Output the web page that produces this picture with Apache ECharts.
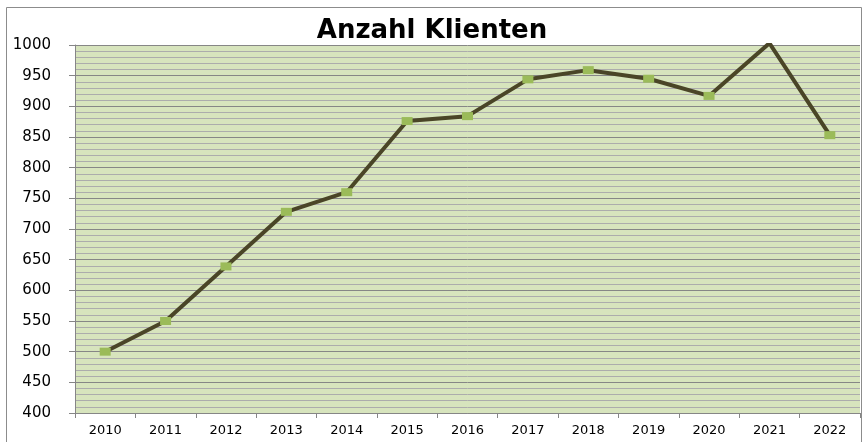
<!DOCTYPE html>
<html>
<head>
<meta charset="utf-8">
<script src="https://cdn.jsdelivr.net/npm/echarts@6/dist/echarts.min.js"></script>
<style>
html,body{margin:0;padding:0;background:#fff;}
#c{width:864px;height:442px;}
</style>
</head>
<body>
<div id="c"></div>
<script>
const years = ['2010','2011','2012','2013','2014','2015','2016','2017','2018','2019','2020','2021','2022'];
const klienten = [500, 550, 639, 728, 760, 876, 884, 944, 959, 945, 917, 1003, 853];
const chartTitle = 'Anzahl Klienten';
const yMin = 400, yMax = 1000;

const seriesData = klienten.map(v => v > yMax ? {value: v, symbol: 'none'} : v);

const chart = echarts.init(document.getElementById('c'), null, {renderer: 'canvas'});
chart.setOption({
  animation: false,
  backgroundColor: '#ffffff',
  graphic: [{
    type: 'rect',
    shape: {x: 6.5, y: 7.5, width: 855, height: 445},
    style: {fill: 'none', stroke: '#8c8c8c', lineWidth: 1},
    z: -1
  }],
  title: {
    text: chartTitle,
    left: 'center',
    top: 13,
    textStyle: {fontFamily: 'DejaVu Sans', fontWeight: 'bold', fontSize: 26, color: '#000'}
  },
  grid: {left: 75, right: 4, top: 45, bottom: 29, show: true, backgroundColor: '#d7e4bd', borderWidth: 0},
  xAxis: {
    type: 'category',
    data: years,
    boundaryGap: true,
    axisLine: {lineStyle: {color: '#868686', width: 1}},
    axisTick: {show: true, length: 5, lineStyle: {color: '#868686'}},
    axisLabel: {fontFamily: 'DejaVu Sans', fontSize: 13, color: '#000', margin: 11}
  },
  yAxis: {
    type: 'value',
    min: yMin, max: yMax, interval: 50,
    axisLine: {show: true, lineStyle: {color: '#868686', width: 1}},
    axisTick: {show: true, length: 6, lineStyle: {color: '#868686'}},
    axisLabel: {fontFamily: 'DejaVu Sans', fontSize: 15, color: '#000', margin: 24, formatter: v => String(v)},
    splitLine: {show: true, lineStyle: {color: '#868686', width: 1}},
    minorTick: {show: false, splitNumber: 5},
    minorSplitLine: {show: true, lineStyle: {color: '#acacac', width: 1}}
  },
  series: [{
    type: 'line',
    data: seriesData,
    clip: true,
    symbol: 'rect',
    symbolSize: [11, 8],
    showAllSymbol: true,
    itemStyle: {color: '#9bbb59', borderWidth: 0},
    lineStyle: {color: '#4a4527', width: 4},
    emphasis: {disabled: true}
  }]
});
</script>
</body>
</html>
